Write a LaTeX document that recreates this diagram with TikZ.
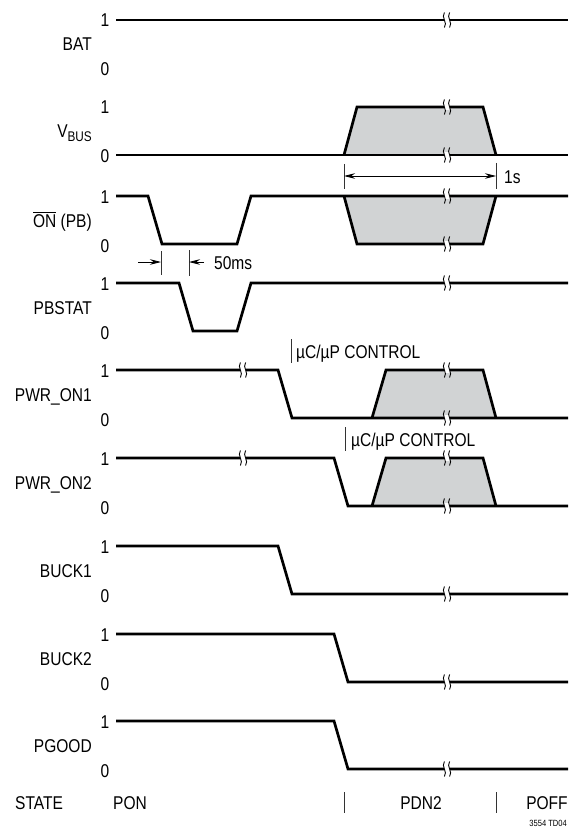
\documentclass[tikz,border=0pt]{standalone}
\usepackage{fontspec}
\setmainfont{Liberation Sans}[FakeStretch=0.84]
\usetikzlibrary{arrows.meta}
\definecolor{boxgray}{RGB}{209,211,212}
\newcommand\brkmark[2]{%
  \fill[white] (#1-2.6,#2-2.8) rectangle (#1+2.6,#2+2.8);
  \draw[line width=0.9pt] (#1-2.6,#2-7.5) .. controls (#1-6.2,#2-2.5) and (#1+1,#2+2.5) .. (#1-2.6,#2+7.5);
  \draw[line width=0.9pt] (#1+2.6,#2-7.5) .. controls (#1-1,#2-2.5) and (#1+6.2,#2+2.5) .. (#1+2.6,#2+7.5);
}
\tikzset{
  sig/.style={line width=2.7pt, line join=miter, line cap=butt},
  grayfill/.style={fill=boxgray},
  thinline/.style={line width=0.8pt, black!80},
  dimarrow/.style={line width=0.8pt, -{Stealth[length=11pt,width=5.5pt]}},
  lvl/.style={anchor=base, inner sep=0pt, font=\fontsize{18.5}{20}\selectfont},
  signame/.style={anchor=base east, inner sep=0pt, font=\fontsize{18.5}{20}\selectfont},
  txt/.style={anchor=base west, inner sep=0pt, font=\fontsize{18.5}{20}\selectfont},
  ctxt/.style={anchor=base, inner sep=0pt, font=\fontsize{18.5}{20}\selectfont},
}
\begin{document}
\begin{tikzpicture}[x=1pt,y=-1pt]
\useasboundingbox (0,0) rectangle (571,829);

% ---------- labels ----------
\node[lvl] (bat1) at (105,27) {1};
\node[lvl] (bat0) at (105,76) {0};
\node[signame] (batn) at (92,51) {BAT};
\node[lvl] (vbus1) at (105,114) {1};
\node[lvl] (vbus0) at (105,163) {0};
\node[signame] (vbusn) at (92,138) {V\raisebox{-0.4ex}{\fontsize{14}{14}\selectfont BUS}};
\node[lvl] (on1) at (105,203) {1};
\node[lvl] (on0) at (105,252) {0};
\node[signame] (onn) at (92,227) {$\overline{\hbox{ON}}$ (PB)};
\node[lvl] (pb1) at (105,290) {1};
\node[lvl] (pb0) at (105,339) {0};
\node[signame] (pbn) at (92,314) {PBSTAT};
\node[lvl] (p11) at (105,377) {1};
\node[lvl] (p10) at (105,426) {0};
\node[signame] (p1n) at (92,401) {PWR\_ON1};
\node[lvl] (p21) at (105,465) {1};
\node[lvl] (p20) at (105,514) {0};
\node[signame] (p2n) at (92,489) {PWR\_ON2};
\node[lvl] (b11) at (105,553) {1};
\node[lvl] (b10) at (105,602) {0};
\node[signame] (b1n) at (92,577) {BUCK1};
\node[lvl] (b21) at (105,641) {1};
\node[lvl] (b20) at (105,690) {0};
\node[signame] (b2n) at (92,665) {BUCK2};
\node[lvl] (pg1) at (105,728) {1};
\node[lvl] (pg0) at (105,777) {0};
\node[signame] (pgn) at (92,752) {PGOOD};

% ---------- BAT ----------
\draw[sig] (116,20) -- (568,20);
\brkmark{447}{20}

% ---------- VBUS ----------
\fill[grayfill] (344,155) -- (357,107) -- (483,107) -- (496,155) -- cycle;
\draw[sig] (344,155) -- (357,107) -- (483,107) -- (496,155);
\draw[sig] (116,155) -- (568,155);
\brkmark{447}{107}
\brkmark{447}{155}

% 1s dimension
\coordinate (s1a) at (344,164); \coordinate (s1b) at (344,189);
\coordinate (s2a) at (496,163); \coordinate (s2b) at (496,189);
\coordinate (s1m) at (344,176); \coordinate (s2m) at (496,176);
\draw[thinline] (s1a) -- (s1b);
\draw[thinline] (s2a) -- (s2b);
\draw[line width=0.8pt, {Stealth[length=11pt,width=5.5pt]}-{Stealth[length=11pt,width=5.5pt]}] (s1m) -- (s2m);
\node[txt] (ones) at (504,183) {1s};

% ---------- ON (PB) ----------
\fill[grayfill] (344,196) -- (357,244) -- (483,244) -- (496,196) -- cycle;
\draw[sig] (344,196) -- (357,244) -- (483,244) -- (496,196);
\draw[sig] (116,196) -- (148,196) -- (162,244) -- (237,244) -- (251,196) -- (568,196);
\brkmark{447}{196}
\brkmark{447}{244}

% 50ms dimension
\coordinate (m1a) at (161,251); \coordinate (m1b) at (161,275);
\coordinate (m2a) at (189,250); \coordinate (m2b) at (189,276);
\coordinate (m1s) at (138,262); \coordinate (m1e) at (161,262);
\coordinate (m2s) at (204,262); \coordinate (m2e) at (189,262);
\draw[thinline] (m1a) -- (m1b);
\draw[thinline] (m2a) -- (m2b);
\draw[dimarrow] (m1s) -- (m1e);
\draw[dimarrow] (m2s) -- (m2e);
\node[txt] (fifty) at (214,269) {50ms};

% ---------- PBSTAT ----------
\draw[sig] (116,283) -- (179,283) -- (193,331) -- (237,331) -- (251,283) -- (568,283);
\brkmark{447}{283}

% ---------- PWR_ON1 ----------
\coordinate (c1a) at (291,339); \coordinate (c1b) at (291,363);
\draw[thinline] (c1a) -- (c1b);
\node[txt] (ctl1) at (296,358.5) {µC/µP CONTROL};
\fill[grayfill] (372,418) -- (386,370) -- (483,370) -- (496,418) -- cycle;
\draw[sig] (372,418) -- (386,370) -- (483,370) -- (496,418);
\draw[sig] (116,370) -- (278,370) -- (292,418) -- (568,418);
\brkmark{243}{370}
\brkmark{447}{370}
\brkmark{447}{418}

% ---------- PWR_ON2 ----------
\coordinate (c2a) at (345,427); \coordinate (c2b) at (345,451);
\draw[thinline] (c2a) -- (c2b);
\node[txt] (ctl2) at (351,446.5) {µC/µP CONTROL};
\fill[grayfill] (372,506) -- (386,458) -- (483,458) -- (496,506) -- cycle;
\draw[sig] (372,506) -- (386,458) -- (483,458) -- (496,506);
\draw[sig] (116,458) -- (334,458) -- (348,506) -- (568,506);
\brkmark{243}{458}
\brkmark{447}{458}
\brkmark{447}{506}

% ---------- BUCK1 ----------
\draw[sig] (116,546) -- (278,546) -- (292,594) -- (568,594);
\brkmark{447}{594}

% ---------- BUCK2 ----------
\draw[sig] (116,634) -- (334,634) -- (348,682) -- (568,682);
\brkmark{447}{682}

% ---------- PGOOD ----------
\draw[sig] (116,721) -- (334,721) -- (348,769) -- (568,769);
\brkmark{447}{769}

% ---------- STATE ----------
\node[txt] (state) at (15,809) {STATE};
\node[txt] (pon) at (113,809) {PON};
\coordinate (st1a) at (344,792); \coordinate (st1b) at (344,813);
\coordinate (st2a) at (496,792); \coordinate (st2b) at (496,813);
\draw[thinline] (st1a) -- (st1b);
\draw[thinline] (st2a) -- (st2b);
\node[ctxt] (pdn) at (421,809) {PDN2};
\node[ctxt] (poff) at (547,809) {POFF};
\node[anchor=base east, inner sep=0pt, font=\fontsize{9}{10}\selectfont] (code) at (567,826) {3554 TD04};
\end{tikzpicture}
\end{document}
